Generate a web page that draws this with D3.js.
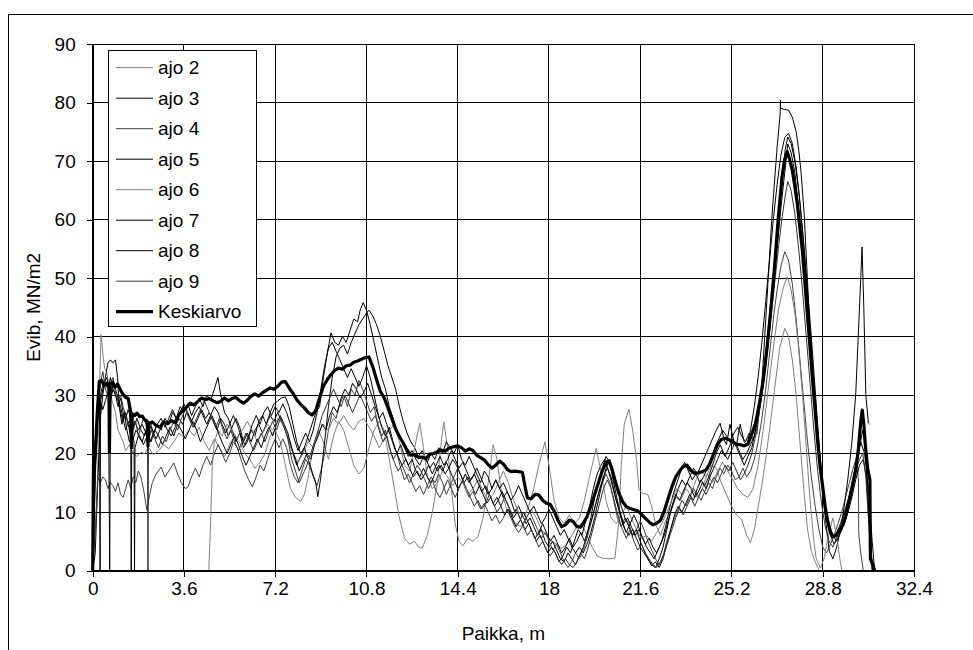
<!DOCTYPE html>
<html>
<head>
<meta charset="utf-8">
<script src="https://cdn.jsdelivr.net/npm/d3@7"></script>
<style>
  body { margin: 0; background: #fff; }
  text { font-family: "Liberation Sans", Arial, sans-serif; fill: #000; }
</style>
</head>
<body>
<svg id="chart" width="973" height="650"></svg>
<script>
// Axis ticks
const xTicks = [0, 3.6, 7.2, 10.8, 14.4, 18, 21.6, 25.2, 28.8, 32.4];
const yTicks = [0, 10, 20, 30, 40, 50, 60, 70, 80, 90];
const seriesNames = ["ajo 2", "ajo 3", "ajo 4", "ajo 5", "ajo 6", "ajo 7", "ajo 8", "ajo 9", "Keskiarvo"];

// Measured Evib (MN/m2) against position (m), one [position, value] list per run
const ajo2 = [[0,0],[0.08,6],[0.18,14],[0.25,28],[0.33,40.3],[0.4,37],[0.47,34.5],[0.55,34],[0.62,32],[0.7,30],[0.8,28.5],[0.9,27],[1.0,24],[1.1,23],[1.2,22],[1.3,20.5],[1.45,21.5],[1.6,20],[1.75,19.5],[1.9,20.2],[2.05,20],[2.2,21],[2.4,19.8],[2.6,20.5],[2.8,21.5],[3.0,20.8],[3.2,22],[3.4,23.5],[3.6,22.8],[3.8,24],[4.0,23],[4.2,24.5],[4.4,22],[4.6,20.5],[4.8,22.5],[5.0,21],[5.2,19.5],[5.4,21.5],[5.6,23],[5.8,21.8],[6.0,20],[6.2,19],[6.4,17.5],[6.6,18.5],[6.8,20],[7.0,23],[7.2,24],[7.4,22],[7.6,18],[7.8,14],[8.0,12.5],[8.2,11.8],[8.35,13],[8.5,16],[8.7,21],[8.9,24],[9.1,22],[9.3,19],[9.5,23],[9.7,25.5],[9.9,24],[10.1,21],[10.3,18],[10.5,16.5],[10.7,17.5],[10.9,21],[11.1,24],[11.3,25.5],[11.5,24],[11.7,19],[11.9,14],[12.1,9],[12.3,5.5],[12.5,4.5],[12.7,5],[12.85,4],[13.0,3.8],[13.2,6],[13.4,10],[13.6,15],[13.75,22],[13.85,25.4],[14.0,21],[14.15,14],[14.3,8],[14.45,5],[14.6,4.2],[14.8,5.5],[15.0,5],[15.2,5.8],[15.4,9],[15.6,15],[15.8,21.5],[15.95,19],[16.1,14],[16.3,11],[16.5,9],[16.7,8],[16.9,7.5],[17.1,9],[17.3,10.5],[17.5,9],[17.7,7],[17.9,6],[18.1,5],[18.3,4.5],[18.5,3.8],[18.7,4.5],[18.9,6],[19.1,7.5],[19.3,8],[19.5,6],[19.7,4],[19.9,2.5],[20.1,2.1],[20.4,2],[20.6,2.1],[20.75,8],[20.85,18],[20.97,25],[21.15,27.6],[21.3,24],[21.45,19],[21.55,13.8],[21.7,13.2],[21.9,13],[22.05,11],[22.2,8],[22.4,6],[22.6,8.5],[22.8,10],[23.0,12.5],[23.2,12],[23.4,14],[23.6,13],[23.8,15.5],[24.0,17],[24.2,16],[24.4,18],[24.6,17.5],[24.8,15],[25.0,13],[25.2,11],[25.4,9.5],[25.6,8.7],[25.8,6],[25.95,4.8],[26.1,7],[26.3,12],[26.5,17.5],[26.7,24],[26.9,31],[27.1,38],[27.3,41.4],[27.45,40],[27.6,36],[27.75,30],[27.9,22],[28.05,14],[28.2,7],[28.35,3.3],[28.5,1.5],[28.66,0]];

const ajo3 = [[0,0],[0.1,3],[0.2,15],[0.3,26],[0.4,30],[0.5,33],[0.6,35.5],[0.7,36],[0.8,35.5],[0.9,36],[0.98,33],[1.05,28],[1.15,25],[1.25,27],[1.35,24],[1.45,22],[1.55,23.5],[1.63,22],[1.65,0],[1.67,21],[1.8,23],[1.95,22],[2.1,24],[2.25,25.5],[2.4,23.5],[2.55,25],[2.7,24],[2.85,26],[3.0,25],[3.15,27],[3.3,26],[3.45,28],[3.6,27],[3.75,28.5],[3.9,26.5],[4.05,28],[4.2,29.5],[4.35,28],[4.5,30],[4.65,29],[4.8,31],[4.94,33],[5.05,30],[5.2,27],[5.35,26],[5.5,24],[5.65,22],[5.8,23.5],[5.95,21],[6.1,22],[6.25,24],[6.4,23],[6.55,25.5],[6.7,26.5],[6.85,25],[7.0,27],[7.15,28.5],[7.3,29],[7.45,29.5],[7.6,29.7],[7.75,28],[7.9,25],[8.05,22],[8.2,20],[8.35,21],[8.5,23],[8.65,25],[8.8,27],[8.95,28],[9.1,33],[9.25,37],[9.4,40.6],[9.55,39],[9.7,38.5],[9.85,40],[10.0,39],[10.15,41],[10.3,43],[10.45,42.5],[10.55,44.5],[10.67,45.8],[10.8,44.5],[10.95,42],[11.1,39],[11.25,36],[11.4,33],[11.55,31],[11.7,28],[11.85,26],[12.0,24],[12.15,22.5],[12.3,21],[12.45,19.5],[12.6,20.5],[12.75,19],[12.9,18],[13.05,19.5],[13.2,18.5],[13.35,20],[13.5,19],[13.65,21],[13.8,20],[13.95,22],[14.1,21],[14.25,20],[14.4,21.5],[14.55,19],[14.7,18],[14.85,19.5],[15.0,18],[15.15,16.5],[15.3,15],[15.45,17],[15.6,16],[15.75,14],[15.9,15.5],[16.05,14],[16.2,12.5],[16.35,13.5],[16.5,12],[16.65,10],[16.8,11],[16.95,9.5],[17.1,8],[17.25,9],[17.4,7.5],[17.55,6],[17.7,7],[17.85,5],[18.0,4],[18.15,5],[18.3,3.5],[18.45,2],[18.6,1.5],[18.75,3],[18.9,2],[19.05,1],[19.2,2.5],[19.35,4],[19.5,6],[19.65,9],[19.8,12.5],[19.95,15],[20.1,17.5],[20.25,19.5],[20.4,18.5],[20.55,15],[20.7,12],[20.85,9],[21.0,7],[21.15,6],[21.3,7],[21.45,5.5],[21.6,4],[21.75,3],[21.9,2],[22.05,1],[22.2,0.5],[22.35,2],[22.5,4],[22.65,7],[22.8,10],[22.95,12],[23.1,14],[23.25,15.5],[23.4,14.5],[23.55,16],[23.7,17.5],[23.85,16.5],[24.0,18],[24.15,19.5],[24.3,21],[24.45,22.5],[24.6,24],[24.75,25.2],[24.9,22.5],[25.0,21.5],[25.14,25],[25.3,22],[25.4,21.5],[25.54,25],[25.7,22],[25.8,21.5],[25.95,24],[26.1,28],[26.25,33],[26.4,39],[26.55,46],[26.7,53],[26.85,60],[27.0,66],[27.15,71],[27.3,74],[27.45,74.7],[27.6,73],[27.75,69],[27.9,63],[28.05,56],[28.2,48],[28.35,40],[28.5,31],[28.65,22],[28.8,14],[28.95,9],[29.1,6],[29.25,4.5],[29.4,5.5],[29.55,7],[29.7,9.5],[29.85,13],[30.0,16],[30.15,19],[30.3,22],[30.45,20],[30.6,14],[30.75,5],[30.85,0]];

const ajo4 = [[0,0],[0.05,4],[0.12,8],[0.2,16],[0.3,15],[0.4,16],[0.5,15.5],[0.6,14],[0.7,15],[0.8,14.5],[0.9,13.5],[1.0,15],[1.1,13],[1.2,12.5],[1.3,14],[1.4,15.5],[1.5,14],[1.6,16],[1.7,15],[1.8,17],[1.9,16],[2.0,14],[2.14,10.3],[2.25,13],[2.35,15],[2.5,16.5],[2.7,17.7],[2.85,16],[3.0,17],[3.2,18.4],[3.35,16.5],[3.5,15],[3.65,14],[3.76,14.3],[3.9,16],[4.05,17.5],[4.2,16],[4.35,18],[4.5,19.5],[4.65,18],[4.8,20],[4.95,21.5],[5.1,20],[5.25,18.5],[5.4,20],[5.55,22],[5.7,21],[5.85,19],[6.0,17],[6.15,15.5],[6.3,14.3],[6.45,16],[6.6,18],[6.75,17],[6.9,19],[7.05,21],[7.2,22.5],[7.35,21],[7.5,22.5],[7.65,21],[7.8,18],[7.95,16],[8.1,15],[8.25,17],[8.4,19],[8.55,18],[8.7,16],[8.85,14.5],[9.0,17],[9.15,20],[9.3,24],[9.45,27],[9.6,26],[9.75,28.5],[9.9,30],[10.05,28],[10.2,31],[10.35,30],[10.5,32.5],[10.65,31],[10.8,29],[10.95,27],[11.1,28],[11.25,25],[11.4,23],[11.55,24],[11.7,21],[11.85,19],[12.0,20],[12.15,17.5],[12.3,15.5],[12.45,16.5],[12.6,15],[12.75,13.5],[12.9,14.5],[13.05,13],[13.2,14.5],[13.35,16],[13.5,15],[13.65,16.5],[13.8,15],[13.95,13],[14.1,14.5],[14.25,16],[14.4,17.5],[14.55,16],[14.7,14],[14.85,12.5],[15.0,13.5],[15.15,12],[15.3,10.5],[15.45,11.5],[15.6,10],[15.75,8.5],[15.9,9.5],[16.05,8],[16.2,9],[16.35,10.5],[16.5,9],[16.65,7.5],[16.8,6.5],[16.95,7.5],[17.1,9],[17.25,10],[17.4,8.5],[17.55,7],[17.7,5.5],[17.85,6.5],[18.0,5],[18.15,3.5],[18.3,4.5],[18.45,3],[18.6,1.5],[18.75,0.5],[18.9,1.5],[19.05,3],[19.2,2],[19.35,3.5],[19.5,5.5],[19.65,8],[19.8,10.5],[19.95,13],[20.1,15],[20.25,16.5],[20.4,15],[20.55,12],[20.7,9],[20.85,7.5],[21.0,9],[21.15,8],[21.3,6],[21.45,7],[21.6,8.5],[21.75,7],[21.9,5],[22.05,3.5],[22.2,2],[22.35,1],[22.5,2.5],[22.65,5],[22.8,7],[22.95,9],[23.1,10.5],[23.25,12],[23.4,11],[23.55,12.5],[23.7,14],[23.85,13],[24.0,12],[24.15,13.5],[24.3,15],[24.45,14],[24.6,16],[24.75,17.5],[24.9,16.5],[25.05,18],[25.2,17],[25.35,15.5],[25.5,16],[25.65,17.5],[25.8,16],[25.95,17],[26.1,19],[26.25,22],[26.4,26],[26.55,31],[26.7,37],[26.85,43],[27.0,48],[27.15,52],[27.3,54.5],[27.45,53],[27.6,49],[27.75,43],[27.9,36],[28.05,29],[28.2,22],[28.35,16],[28.5,11],[28.65,7],[28.8,4],[28.95,3],[29.1,4.5],[29.25,6],[29.4,8],[29.55,10],[29.7,12.5],[29.85,15],[30.0,17.5],[30.15,19.5],[30.21,15],[30.22,6.3],[30.3,3],[30.4,0]];

const ajo5 = [[0,0],[0.02,20],[0.1,22],[0.2,27],[0.27,30],[0.29,0],[0.31,29],[0.4,31],[0.5,32],[0.6,31],[0.7,33],[0.8,31],[0.9,30],[1.0,29],[1.1,27],[1.2,25.5],[1.3,27],[1.4,25],[1.5,23],[1.6,24.5],[1.75,26],[1.9,24],[2.05,23],[2.2,25],[2.35,24],[2.5,22.5],[2.65,24],[2.8,25.5],[2.95,24],[3.1,23],[3.25,24.5],[3.4,26],[3.55,25],[3.7,27],[3.85,26],[4.0,24.5],[4.15,26],[4.3,27.5],[4.45,26],[4.6,27],[4.75,25.5],[4.9,24],[5.05,26],[5.2,25],[5.35,23],[5.5,24.5],[5.65,26],[5.8,24.5],[5.95,22],[6.1,23.5],[6.25,22],[6.4,24],[6.55,25],[6.7,23.5],[6.85,25],[7.0,26.5],[7.15,25.5],[7.3,27],[7.45,25.5],[7.6,24],[7.75,22],[7.9,20],[8.05,18],[8.2,19.5],[8.35,21],[8.5,19],[8.65,17],[8.8,15],[8.88,12.6],[9.0,16],[9.15,22],[9.3,28],[9.45,33],[9.6,36.5],[9.75,38],[9.9,38.5],[10.05,37],[10.2,39],[10.35,40.5],[10.5,42],[10.65,43],[10.8,44],[10.9,44.5],[11.05,43.5],[11.2,42],[11.35,40],[11.5,37.5],[11.65,35],[11.8,33],[11.95,31],[12.1,28],[12.25,25.5],[12.4,23.5],[12.55,22],[12.7,21],[12.85,19.5],[13.0,20.5],[13.15,19],[13.3,17.5],[13.45,18.5],[13.6,17],[13.75,18],[13.9,16.5],[14.05,17.5],[14.2,19],[14.35,18],[14.5,16.5],[14.65,15],[14.8,16],[14.95,14.5],[15.1,13],[15.25,14.5],[15.4,13],[15.55,11.5],[15.7,12.5],[15.85,11],[16.0,12],[16.15,13.5],[16.3,12],[16.45,10.5],[16.6,9],[16.75,10],[16.9,8.5],[17.05,7],[17.2,8],[17.35,6.5],[17.5,5],[17.65,6],[17.8,4.5],[17.95,3],[18.1,4],[18.25,3],[18.4,1.5],[18.55,2.5],[18.7,4],[18.85,3],[19.0,5],[19.15,7],[19.3,6],[19.45,8.5],[19.6,11],[19.75,14],[19.9,16.5],[20.05,18],[20.2,19],[20.35,17],[20.5,14.5],[20.65,12],[20.8,10],[20.95,8],[21.1,9],[21.25,7.5],[21.4,6],[21.55,7],[21.7,5.5],[21.85,4],[22.0,3],[22.15,2],[22.3,3.5],[22.45,5],[22.6,7.5],[22.75,10.5],[22.9,13],[23.05,15],[23.2,17],[23.35,18.5],[23.5,17],[23.65,15.5],[23.8,16.5],[23.95,15],[24.1,16],[24.25,17.5],[24.4,19],[24.55,21],[24.7,22.5],[24.85,24],[25.0,23],[25.15,22],[25.3,23.5],[25.45,24.5],[25.6,23],[25.75,22],[25.9,23.5],[26.05,22.5],[26.2,23.4],[26.4,32],[26.6,46.4],[26.8,60.8],[27.0,72.4],[27.12,78],[27.13,80.4],[27.14,79],[27.3,78.8],[27.45,78.7],[27.6,77.5],[27.75,75],[27.85,72],[27.94,68.3],[28.07,60.8],[28.2,49.3],[28.4,32],[28.66,20.6],[28.87,10.2],[29.06,3.3],[29.2,2],[29.35,4],[29.5,7],[29.65,11],[29.8,16],[29.95,22],[30.1,30],[30.2,40],[30.3,50],[30.35,55.3],[30.42,45],[30.5,30],[30.6,25.2],[30.65,25]];

const ajo6 = [[0,0],[4.58,0],[4.65,8],[4.72,18],[4.8,22],[4.95,24],[5.1,23],[5.3,25],[5.5,24],[5.7,22.5],[5.9,24],[6.1,25.5],[6.3,24],[6.5,22],[6.7,23.5],[6.9,25],[7.1,24],[7.3,26],[7.5,25],[7.7,23],[7.9,20],[8.1,18.5],[8.3,20],[8.5,22],[8.7,21],[8.9,23.5],[9.1,25],[9.3,24],[9.5,26],[9.7,25],[9.9,26.5],[10.1,25],[10.3,24],[10.5,25.5],[10.7,26],[10.9,24.5],[11.1,23],[11.3,21],[11.5,22.5],[11.7,24],[11.9,25],[12.1,22],[12.3,18],[12.5,17],[12.7,21],[12.9,25.2],[13.05,21],[13.2,16],[13.4,14],[13.6,15],[13.8,17],[14.0,16],[14.2,14.5],[14.4,16],[14.6,15],[14.8,13],[15.0,14],[15.2,15.5],[15.4,13.5],[15.6,12],[15.8,13],[16.0,15],[16.2,17],[16.4,15],[16.6,12],[16.8,10],[17.0,9],[17.2,11],[17.4,14],[17.6,18],[17.84,22],[18.0,18],[18.2,12],[18.4,9],[18.6,8],[18.8,9.5],[19.0,8],[19.2,9],[19.4,12],[19.6,16],[19.86,20.9],[20.05,17],[20.25,12],[20.45,9],[20.65,8],[20.85,9.5],[21.05,11],[21.25,9],[21.45,7],[21.65,5.5],[21.85,6],[22.05,5],[22.25,6.5],[22.45,8],[22.65,10],[22.85,12],[23.05,14],[23.25,13],[23.45,15],[23.65,14],[23.85,12.5],[24.05,14],[24.25,16.5],[24.45,15],[24.65,17],[24.85,18.5],[25.05,17],[25.25,15.5],[25.45,14],[25.65,13],[25.85,12.5],[26.05,14],[26.25,18],[26.45,24],[26.65,31],[26.85,38],[27.05,44.5],[27.25,48.5],[27.4,50.2],[27.55,48],[27.7,44],[27.85,38],[28.0,30],[28.15,21],[28.3,12],[28.45,5],[28.54,2.1],[28.7,0.4],[28.85,2],[29.0,5.5],[29.2,9],[29.35,6],[29.47,2.1],[29.55,0]];

const ajo7 = [[0,0],[0.06,10],[0.15,24],[0.25,28],[0.35,31],[0.45,32],[0.55,33],[0.62,32],[0.67,0],[0.7,30],[0.8,32],[0.9,31],[1.0,29.5],[1.1,28],[1.2,26],[1.3,24],[1.4,25.5],[1.5,24],[1.6,22.5],[1.7,24],[1.85,23],[2.0,21.5],[2.15,23],[2.3,22],[2.45,24],[2.6,23],[2.75,21.5],[2.9,23],[3.05,24.5],[3.2,23],[3.35,25],[3.5,24],[3.65,22.5],[3.8,24],[3.95,25.5],[4.1,24],[4.25,22],[4.4,23.5],[4.55,25],[4.7,26.5],[4.85,25],[5.0,23],[5.15,21.5],[5.3,20],[5.45,21.5],[5.6,23],[5.75,21.5],[5.9,19.5],[6.05,18],[6.2,19.5],[6.35,21],[6.5,22.5],[6.65,21],[6.8,23],[6.95,24.5],[7.1,23],[7.25,25],[7.4,26.5],[7.55,25],[7.7,23.5],[7.85,21],[8.0,19],[8.15,17],[8.3,18.5],[8.45,20],[8.6,19],[8.75,21.5],[8.9,23],[9.05,25],[9.2,24],[9.35,26.5],[9.5,28],[9.65,27],[9.8,29.5],[9.95,31],[10.1,30],[10.25,32],[10.4,31],[10.55,29.5],[10.7,30.5],[10.85,32],[11.0,30],[11.15,28],[11.3,26],[11.45,27],[11.6,25],[11.75,23],[11.9,21],[12.05,19.5],[12.2,18],[12.35,19],[12.5,17.5],[12.65,16],[12.8,17],[12.95,15.5],[13.1,16.5],[13.25,18],[13.4,16.5],[13.55,18],[13.7,19.5],[13.85,18],[14.0,19],[14.15,20.5],[14.3,19],[14.45,17.5],[14.6,18.5],[14.75,17],[14.9,15.5],[15.05,16.5],[15.2,15],[15.35,13.5],[15.5,14.5],[15.65,13],[15.8,11.5],[15.95,12.5],[16.1,11],[16.25,9.5],[16.4,10.5],[16.55,9],[16.7,7.5],[16.85,8.5],[17.0,10],[17.15,8.5],[17.3,7],[17.45,5.5],[17.6,6.5],[17.75,8],[17.9,6.5],[18.05,5],[18.2,6],[18.35,4.5],[18.5,3],[18.65,4],[18.8,5.5],[18.95,4],[19.1,5],[19.25,6.5],[19.4,5],[19.55,7],[19.7,9],[19.85,11.5],[20.0,14],[20.15,16],[20.3,17.5],[20.45,16],[20.6,13],[20.75,10.5],[20.9,8],[21.05,6.5],[21.2,8],[21.35,9.5],[21.5,8],[21.65,6],[21.8,4.5],[21.95,5.5],[22.1,4],[22.25,3],[22.4,4.5],[22.55,6],[22.7,8.5],[22.85,11],[23.0,13],[23.15,12],[23.3,13.5],[23.45,15],[23.6,14],[23.75,12.5],[23.9,13.5],[24.05,15],[24.2,14],[24.35,16],[24.5,17.5],[24.65,19],[24.8,20.5],[24.95,19.5],[25.1,21],[25.25,22.5],[25.4,21],[25.55,19.5],[25.7,18],[25.85,19.5],[26.0,21],[26.15,24],[26.3,28],[26.45,33],[26.6,39],[26.75,46],[26.9,53],[27.05,60],[27.2,67],[27.32,72],[27.42,74.1],[27.55,73],[27.7,70],[27.85,65],[28.0,58],[28.15,50],[28.3,41],[28.45,32],[28.6,24],[28.75,16],[28.9,11],[29.05,8],[29.2,6],[29.35,5],[29.5,6.5],[29.65,8],[29.8,10],[29.95,12.5],[30.1,15.5],[30.25,18],[30.4,19],[30.52,16],[30.6,10],[30.7,4],[30.78,0]];

const ajo8 = [[0,0],[0.04,6],[0.12,18],[0.2,26],[0.3,29],[0.4,27.5],[0.5,29],[0.6,30.5],[0.7,29],[0.8,31],[0.9,30],[1.0,28],[1.1,29.5],[1.2,27],[1.3,26],[1.4,27.5],[1.5,26],[1.52,0],[1.54,24],[1.65,25.5],[1.8,24],[1.95,25],[2.1,23.5],[2.25,22],[2.4,23.5],[2.55,25],[2.7,26],[2.85,24.5],[3.0,26],[3.15,27.5],[3.3,26],[3.45,27],[3.6,28.5],[3.75,27],[3.9,25.5],[4.05,27],[4.2,28],[4.35,26.5],[4.5,25],[4.65,26.5],[4.8,28],[4.95,27],[5.1,25],[5.25,23.5],[5.4,25],[5.55,26.5],[5.7,25],[5.85,23],[6.0,21.5],[6.15,23],[6.3,25],[6.45,26.5],[6.6,25],[6.75,27],[6.9,28],[7.05,26.5],[7.2,28],[7.35,27],[7.5,28.5],[7.65,27],[7.8,25],[7.95,22.5],[8.1,20.5],[8.25,22],[8.4,23.5],[8.55,22],[8.7,24],[8.85,27],[9.0,31],[9.15,35],[9.3,38],[9.45,39],[9.6,37.5],[9.75,36],[9.9,34.5],[10.05,33],[10.2,34.5],[10.35,33],[10.5,31.5],[10.65,33],[10.8,35],[10.95,33],[11.1,30],[11.25,27],[11.4,24.5],[11.55,23],[11.7,24.5],[11.85,22],[12.0,20],[12.15,21.5],[12.3,19.5],[12.45,18],[12.6,19],[12.75,17],[12.9,16],[13.05,17.5],[13.2,16],[13.35,15],[13.5,16.5],[13.65,18],[13.8,17],[13.95,18.5],[14.1,17],[14.25,15.5],[14.4,14],[14.55,15],[14.7,16.5],[14.85,15],[15.0,16],[15.15,17.5],[15.3,16],[15.45,14.5],[15.6,13],[15.75,14],[15.9,15.5],[16.05,14],[16.2,15],[16.35,13.5],[16.5,12],[16.65,13],[16.8,14.5],[16.95,13],[17.1,11.5],[17.25,10],[17.4,11],[17.55,9.5],[17.7,8],[17.85,9],[18.0,10.5],[18.15,9],[18.3,7.5],[18.45,6],[18.6,7],[18.75,5.5],[18.9,4],[19.05,3],[19.2,4],[19.35,3],[19.5,4.5],[19.65,6.5],[19.8,9],[19.95,12],[20.1,15],[20.25,17.5],[20.4,19],[20.55,17],[20.7,14],[20.85,11],[21.0,9],[21.15,7.5],[21.3,6],[21.45,7],[21.6,5],[21.75,3.5],[21.9,2],[22.05,0.8],[22.2,1.5],[22.35,0.5],[22.5,2],[22.65,4.5],[22.8,7],[22.95,9.5],[23.1,11],[23.25,10],[23.4,11.5],[23.55,13],[23.7,12],[23.85,14],[24.0,15.5],[24.15,14.5],[24.3,16],[24.45,18],[24.6,20],[24.75,21.5],[24.9,20],[25.05,19],[25.2,20.5],[25.35,22],[25.5,20.5],[25.65,19],[25.8,20],[25.95,21.5],[26.1,23],[26.25,26],[26.4,30],[26.55,35],[26.7,41],[26.85,48],[27.0,55],[27.15,62],[27.3,68],[27.42,72.9],[27.55,71.5],[27.7,68],[27.85,62],[28.0,55],[28.15,47],[28.3,39],[28.45,30],[28.6,22],[28.75,15],[28.9,10],[29.05,7],[29.2,5.5],[29.35,6.5],[29.5,8],[29.65,10],[29.8,12],[29.95,14],[30.1,17],[30.25,21],[30.38,24],[30.5,20],[30.6,12],[30.7,3],[30.75,0]];

const ajo9 = [[0,0],[0.05,18],[0.1,22],[0.2,28],[0.3,32],[0.4,34],[0.5,31],[0.6,30],[0.7,32],[0.8,33],[0.9,30.5],[1.0,29],[1.1,30],[1.2,28],[1.3,26.5],[1.4,25],[1.5,26],[1.6,24],[1.7,25.5],[1.8,23],[1.9,24.5],[2.0,26],[2.1,25],[2.16,24],[2.18,0],[2.2,22],[2.3,24],[2.45,22.5],[2.6,21],[2.75,23],[2.9,22],[3.05,24],[3.2,25.5],[3.35,24],[3.5,26],[3.65,27.5],[3.8,26],[3.95,24.5],[4.1,26],[4.25,27.5],[4.4,29],[4.55,27.5],[4.7,26],[4.85,24.5],[5.0,26],[5.15,24],[5.3,22.5],[5.45,24],[5.6,22],[5.75,20.5],[5.9,22],[6.05,23.5],[6.2,22],[6.35,20.5],[6.5,22],[6.65,23.5],[6.8,22],[6.95,24],[7.1,25.5],[7.25,24],[7.4,26],[7.55,24.5],[7.7,22.5],[7.85,19],[8.0,17],[8.15,15],[8.3,16.5],[8.45,18],[8.6,20],[8.75,22],[8.9,24],[9.05,26.5],[9.2,28],[9.35,29.5],[9.5,31],[9.65,29.5],[9.8,28],[9.95,30],[10.1,28.5],[10.25,27],[10.4,28.5],[10.55,30],[10.7,28.5],[10.85,27],[11.0,25.5],[11.15,26.5],[11.3,24],[11.45,22],[11.6,23],[11.75,20.5],[11.9,18.5],[12.05,17],[12.2,18],[12.35,16.5],[12.5,15],[12.65,16.5],[12.8,18],[12.95,17],[13.1,15.5],[13.25,14],[13.4,15.5],[13.55,13.5],[13.7,12.5],[13.85,14],[14.0,15.5],[14.15,14],[14.3,12.5],[14.45,14],[14.6,15.5],[14.75,14],[14.9,12.5],[15.05,11],[15.2,12],[15.35,10.5],[15.5,11.5],[15.65,13],[15.8,11.5],[15.95,10],[16.1,11],[16.25,12.5],[16.4,11],[16.55,9.5],[16.7,10.5],[16.85,9],[17.0,7.5],[17.15,6],[17.3,7],[17.45,5.5],[17.6,4],[17.75,5],[17.9,3.5],[18.05,2.5],[18.2,3.5],[18.35,2],[18.5,1],[18.65,2],[18.8,1],[18.95,0.5],[19.1,1.5],[19.25,3],[19.4,2],[19.55,4],[19.7,6.5],[19.85,9],[20.0,11.5],[20.15,14],[20.3,15.5],[20.45,14],[20.6,11.5],[20.75,9],[20.9,7],[21.05,5.5],[21.2,7],[21.35,5],[21.5,3.5],[21.65,4.5],[21.8,3],[21.95,2],[22.1,1],[22.25,0.5],[22.4,1.5],[22.55,3],[22.7,5],[22.85,7],[23.0,9],[23.15,10.5],[23.3,9.5],[23.45,11],[23.6,12.5],[23.75,11],[23.9,12.5],[24.05,14],[24.2,13],[24.35,14.5],[24.5,16],[24.65,15],[24.8,16.5],[24.95,18],[25.1,17],[25.25,18.5],[25.4,17],[25.55,15.5],[25.7,16.5],[25.85,18],[26.0,20],[26.15,23],[26.3,27],[26.45,32],[26.6,37],[26.75,43],[26.9,49],[27.05,55],[27.2,60.5],[27.32,64],[27.42,66.5],[27.55,65],[27.7,61],[27.85,55],[28.0,48],[28.15,40],[28.3,32],[28.45,24],[28.6,17],[28.75,11.5],[28.9,7.5],[29.05,5],[29.2,4],[29.35,5.5],[29.5,7.5],[29.65,9.5],[29.8,12],[29.95,14.5],[30.1,17],[30.25,19],[30.38,20],[30.5,16],[30.6,9],[30.7,2],[30.76,0]];

// Average over the runs
const keskiarvo = [[0,0],[0.03,18],[0.1,20],[0.18,27],[0.26,32.3],[0.35,32.5],[0.45,31.6],[0.55,32],[0.64,31.5],[0.66,20.3],[0.69,31.8],[0.78,32.2],[0.88,31.3],[0.98,31.9],[1.08,31],[1.18,30.2],[1.3,29.6],[1.4,29.4],[1.5,27],[1.53,21],[1.56,26.8],[1.65,26.5],[1.75,26.9],[1.85,26.3],[1.95,26.4],[2.05,25.8],[2.15,25.5],[2.18,21.3],[2.22,25],[2.35,25.4],[2.5,24.8],[2.65,24.5],[2.8,25.4],[2.95,25.1],[3.1,25.6],[3.25,25.3],[3.4,26.6],[3.55,27.4],[3.7,27.9],[3.85,28.6],[4.0,28.3],[4.15,28.9],[4.3,29.5],[4.45,29.2],[4.6,29.4],[4.75,29],[4.9,28.7],[5.05,28.9],[5.2,29.5],[5.35,29],[5.5,29.4],[5.65,29.6],[5.8,29],[5.95,28.6],[6.1,29.1],[6.25,29.8],[6.4,30.2],[6.55,29.8],[6.7,30.4],[6.85,30.8],[7.0,31.2],[7.15,31],[7.3,31.5],[7.45,32.2],[7.6,32.3],[7.75,31.2],[7.9,30.3],[8.05,29.2],[8.2,28.4],[8.35,27.8],[8.5,27],[8.65,26.6],[8.8,27.3],[8.95,29.5],[9.1,31.5],[9.25,32.6],[9.4,33.5],[9.55,34.2],[9.7,34.6],[9.85,34.4],[10.0,35],[10.15,35.1],[10.3,35.6],[10.45,35.8],[10.6,36.1],[10.75,36.4],[10.9,36.5],[11.05,34.8],[11.2,32.6],[11.35,30.6],[11.5,29.5],[11.65,27.8],[11.8,26],[11.95,24.2],[12.1,22.9],[12.25,21.8],[12.4,20.6],[12.55,19.7],[12.7,19.8],[12.85,19.3],[13.0,19.4],[13.15,19.1],[13.3,19.9],[13.45,20],[13.6,20.3],[13.75,20.6],[13.9,20.4],[14.05,20.9],[14.2,21.1],[14.4,21.3],[14.55,21],[14.7,20.4],[14.85,20.8],[15.0,20.5],[15.15,19.7],[15.3,19.3],[15.45,18.9],[15.6,18.1],[15.75,17.5],[15.9,18],[16.05,18.7],[16.2,18.2],[16.35,17.3],[16.5,16.9],[16.65,17],[16.8,16.9],[16.95,16.8],[17.05,14.5],[17.15,12.4],[17.3,12.3],[17.45,13],[17.6,12.9],[17.75,12],[17.9,11.5],[18.05,11.3],[18.2,10.2],[18.35,8.6],[18.5,7.5],[18.65,7.8],[18.8,8.6],[18.95,8.4],[19.1,7.5],[19.25,7.4],[19.4,8.4],[19.5,9.2],[19.65,11],[19.8,13],[19.95,15],[20.1,17],[20.25,18.5],[20.35,18.7],[20.45,17.8],[20.6,15.5],[20.75,13.3],[20.9,11.8],[21.05,10.9],[21.2,10.6],[21.35,10.4],[21.5,10.2],[21.65,9.6],[21.8,8.9],[21.95,8.3],[22.1,7.8],[22.25,8.1],[22.4,8.6],[22.55,10.2],[22.7,12.3],[22.85,14.3],[23.0,16],[23.15,17],[23.3,17.8],[23.45,18],[23.6,17.1],[23.75,16.6],[23.9,16.7],[24.05,16.9],[24.2,17.2],[24.35,18.3],[24.5,20],[24.65,21.6],[24.8,22.4],[24.95,22.6],[25.1,22.4],[25.25,21.9],[25.4,21.6],[25.55,21.5],[25.7,21.3],[25.85,21.6],[26.0,23.3],[26.15,25.2],[26.3,28.5],[26.45,32.5],[26.6,38],[26.75,44.5],[26.9,52],[27.05,60.5],[27.2,67.5],[27.3,70.3],[27.4,71.6],[27.5,70.2],[27.6,68.4],[27.7,65.6],[27.8,62.5],[27.9,58.5],[28.0,54.5],[28.1,49],[28.2,43.5],[28.3,38],[28.4,32.5],[28.5,27.3],[28.6,22],[28.7,17.6],[28.8,14.3],[28.9,10.8],[29.0,8.3],[29.1,6.6],[29.2,5.8],[29.3,5.9],[29.4,6.4],[29.5,7.1],[29.6,7.8],[29.7,9.3],[29.8,11.2],[29.9,13],[30.0,15],[30.1,17.2],[30.2,20.5],[30.3,25.5],[30.36,27.4],[30.42,25],[30.5,20.5],[30.58,17.2],[30.66,15.5],[30.68,2],[30.75,1.2],[30.85,0]];

const seriesData = [ajo2, ajo3, ajo4, ajo5, ajo6, ajo7, ajo8, ajo9, keskiarvo];

// Drawing styles
const seriesColors = ["#808080", "#000000", "#404040", "#000000", "#808080", "#000000", "#000000", "#333333", "#000000"];
const seriesWidths = [1, 1, 1, 1, 1, 1, 1, 1, 3.2];

const svg = d3.select("#chart");
const plot = { left: 92.7, right: 914, top: 44, bottom: 570.5 };

const x = d3.scaleLinear().domain([0, 32.4]).range([plot.left, plot.right]);
const y = d3.scaleLinear().domain([0, 90]).range([plot.bottom, plot.top]);

// Outer frame (runs past the right and bottom edges)
svg.append("rect")
  .attr("x", 8.5).attr("y", 14.5)
  .attr("width", 1000).attr("height", 700)
  .attr("fill", "#fff").attr("stroke", "#000").attr("stroke-width", 1);

// Grid
const grid = svg.append("g").attr("shape-rendering", "crispEdges");
grid.selectAll("line.h").data(yTicks).join("line")
  .attr("x1", plot.left).attr("x2", plot.right)
  .attr("y1", d => y(d)).attr("y2", d => y(d))
  .attr("stroke", "#000").attr("stroke-width", 1);
grid.selectAll("line.v").data(xTicks).join("line")
  .attr("y1", plot.top).attr("y2", plot.bottom)
  .attr("x1", d => x(d)).attr("x2", d => x(d))
  .attr("stroke", "#000").attr("stroke-width", 1);

// Axes
const fontSize = 19;
const fontFamily = "'Liberation Sans', Arial, sans-serif";
const xAxis = svg.append("g")
  .attr("transform", `translate(0,${plot.bottom})`)
  .call(d3.axisBottom(x).tickValues(xTicks).tickSize(6).tickPadding(5).tickFormat(d => String(d)));
const yAxis = svg.append("g")
  .attr("transform", `translate(${plot.left},0)`)
  .call(d3.axisLeft(y).tickValues(yTicks).tickSize(6).tickPadding(11).tickFormat(d => String(d)));
[xAxis, yAxis].forEach(a => {
  a.attr("shape-rendering", "crispEdges");
  a.select(".domain").attr("stroke", "#000");
  a.selectAll(".tick line").attr("stroke", "#000");
  a.selectAll(".tick text").attr("font-size", fontSize)
    .attr("font-family", fontFamily).attr("fill", "#000");
});

// Axis titles
svg.append("text")
  .attr("x", (plot.left + plot.right) / 2).attr("y", 640)
  .attr("text-anchor", "middle").attr("font-size", fontSize)
  .text("Paikka, m");
svg.append("text")
  .attr("transform", `translate(40,${(plot.top + plot.bottom) / 2}) rotate(-90)`)
  .attr("text-anchor", "middle").attr("font-size", fontSize)
  .text("Evib, MN/m2");

// Data lines
const line = d3.line().x(d => x(d[0])).y(d => y(d[1]));
const lines = svg.append("g");
seriesData.forEach((data, i) => {
  lines.append("path")
    .datum(data)
    .attr("d", line)
    .attr("fill", "none")
    .attr("stroke", seriesColors[i])
    .attr("stroke-width", seriesWidths[i])
    .attr("stroke-linejoin", "round");
});

// Plot frame on top
svg.append("rect")
  .attr("x", x(0)).attr("y", y(90))
  .attr("width", x(32.4) - x(0)).attr("height", y(0) - y(90))
  .attr("fill", "none").attr("stroke", "#000").attr("shape-rendering", "crispEdges");

// Legend
const legend = svg.append("g");
legend.append("rect")
  .attr("x", 108.5).attr("y", 50.5).attr("width", 148).attr("height", 276)
  .attr("fill", "#fff").attr("stroke", "#000").attr("stroke-width", 1)
  .attr("shape-rendering", "crispEdges");
seriesNames.forEach((name, i) => {
  const cy = 67.7 + i * 30.5;
  legend.append("line")
    .attr("x1", 116).attr("x2", 153).attr("y1", cy).attr("y2", cy)
    .attr("stroke", seriesColors[i]).attr("stroke-width", seriesWidths[i]);
  legend.append("text")
    .attr("x", 158).attr("y", cy).attr("dy", "0.35em")
    .attr("font-size", fontSize)
    .text(name);
});
</script>
</body>
</html>
